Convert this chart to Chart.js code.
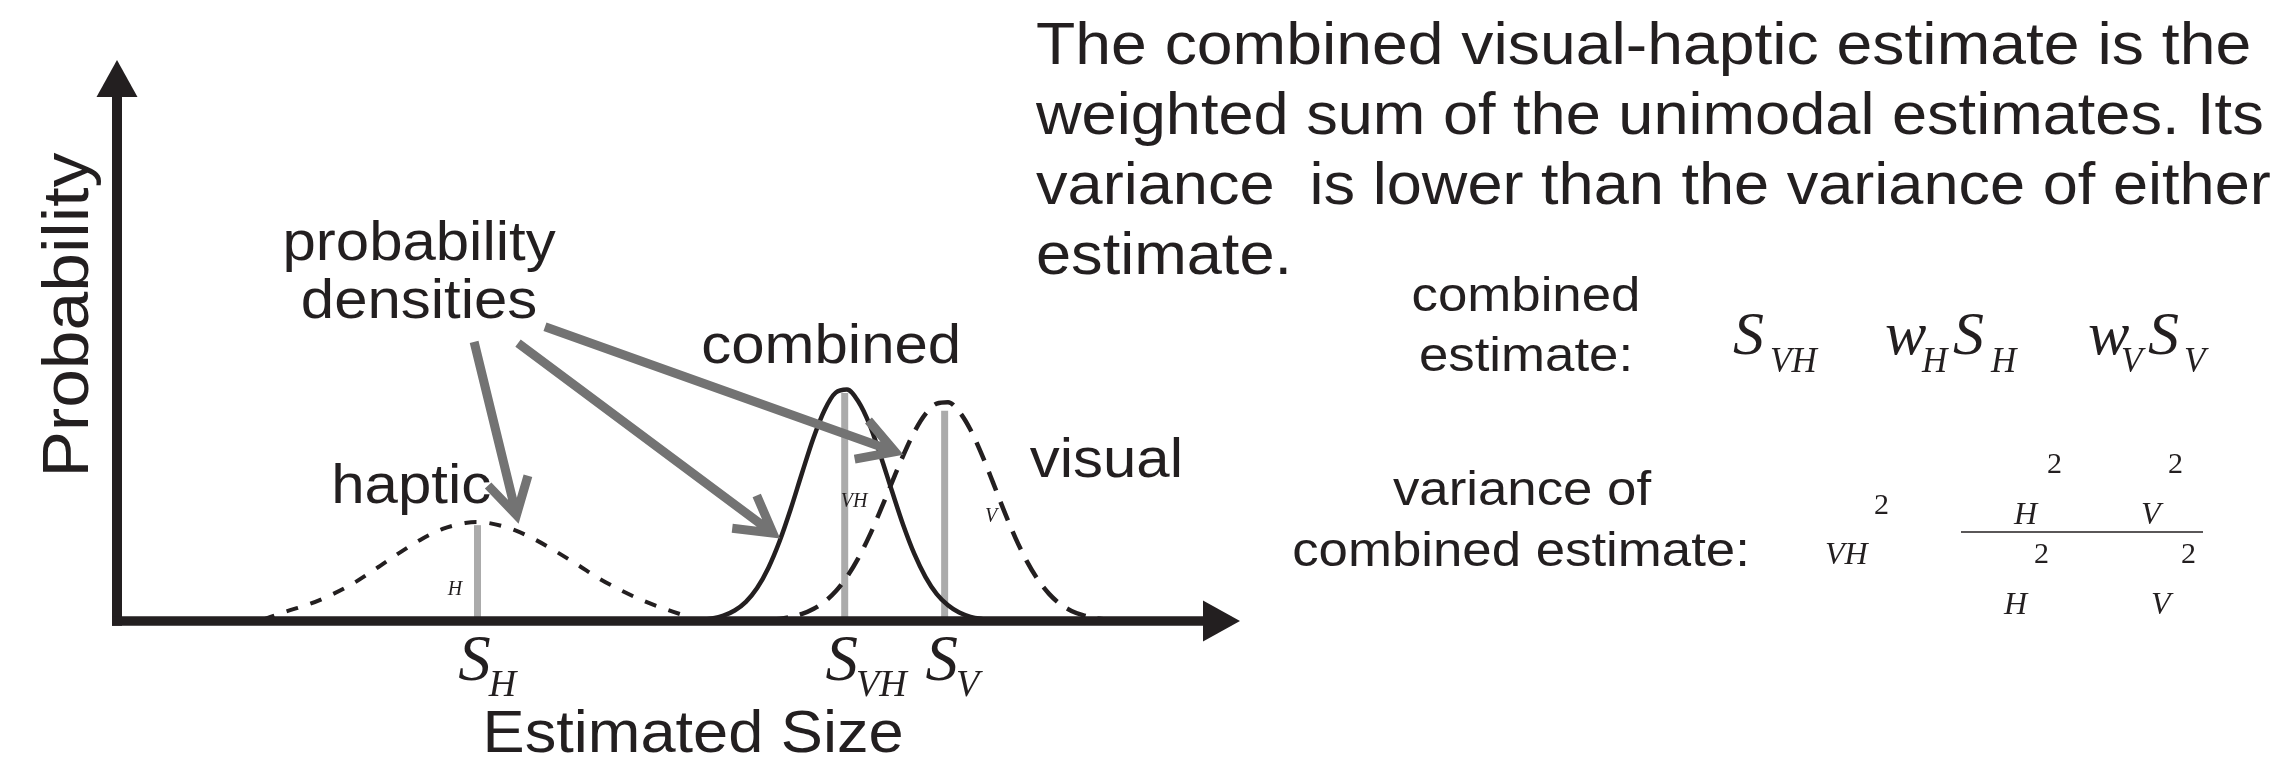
<!DOCTYPE html>
<html>
<head>
<meta charset="utf-8">
<title>Visual-haptic cue combination</title>
<script src="https://cdn.jsdelivr.net/npm/chart.js@4.4.1/dist/chart.umd.min.js"></script>
<style>
    body { margin: 0; background: #fff; overflow: hidden; }
    #wrap { position: relative; width: 2275px; height: 770px; }
    #sizeChart { position: absolute; left: 0; top: 0; }
    #notes { position: absolute; left: 0; top: 0; pointer-events: none; }
    #notes text { white-space: pre; }
</style>
</head>
<body>
<div id="wrap">
    <canvas id="sizeChart" width="1260" height="770"></canvas>

    <svg id="notes" width="2275" height="770">
        <g font-family="'Liberation Sans', Arial, sans-serif" fill="#231f20">
            <text transform="translate(1036,64) scale(1.09,1)" font-size="59">The combined visual-haptic estimate is the</text>
            <text transform="translate(1036,134) scale(1.07,1)" font-size="59">weighted sum of the unimodal estimates. Its</text>
            <text transform="translate(1036,204) scale(1.07,1)" font-size="59">variance  is lower than the variance of either</text>
            <text transform="translate(1036,274) scale(1.07,1)" font-size="59">estimate.</text>

            <g font-size="48" text-anchor="middle">
                <text transform="translate(1526,311) scale(1.1,1)">combined</text>
                <text transform="translate(1526,371) scale(1.1,1)">estimate:</text>
                <text transform="translate(1522,505) scale(1.1,1)">variance of</text>
                <text transform="translate(1521,566) scale(1.1,1)">combined estimate:</text>
            </g>
        </g>

        <!-- formulas, Times italic -->
        <g font-family="'Liberation Serif', 'Times New Roman', serif" font-style="italic" fill="#231f20">
            <text x="1733" y="354" font-size="62">S</text>
            <text x="1770" y="372" font-size="35">VH</text>
            <text x="1885" y="354" font-size="62">w</text>
            <text x="1922" y="372" font-size="35">H</text>
            <text x="1953" y="354" font-size="62">S</text>
            <text x="1991" y="372" font-size="35">H</text>
            <text x="2088" y="354" font-size="62">w</text>
            <text x="2121" y="372" font-size="35">V</text>
            <text x="2148" y="354" font-size="62">S</text>
            <text x="2184" y="372" font-size="35">V</text>

            <text x="1825" y="564" font-size="32">VH</text>
            <text x="2014" y="524" font-size="32">H</text>
            <text x="2141" y="524" font-size="32">V</text>
            <text x="2004" y="614" font-size="32">H</text>
            <text x="2151" y="614" font-size="32">V</text>
        </g>
        <g font-family="'Liberation Serif', 'Times New Roman', serif" fill="#231f20" font-size="30">
            <text x="1874" y="514">2</text>
            <text x="2047" y="473">2</text>
            <text x="2168" y="473">2</text>
            <text x="2034" y="563">2</text>
            <text x="2181" y="563">2</text>
        </g>
        <line x1="1961" y1="532" x2="2203" y2="532" stroke="#231f20" stroke-width="1.5"/>
    </svg>
</div>

<script>
// estimated size (x) against probability density (y)
const hapticX = [13, 15, 17, 19, 21, 23, 25, 27, 29, 31, 32, 33, 35, 37, 39, 41, 43, 45, 47, 49, 51];
const hapticY = [0.006, 0.04, 0.07, 0.11, 0.16, 0.222, 0.287, 0.347, 0.394, 0.419, 0.424, 0.42, 0.396, 0.354, 0.3, 0.241, 0.18, 0.128, 0.084, 0.048, 0.016];

const combinedX = [51, 52, 53, 54, 55, 56, 57, 58, 59, 60, 61, 62, 63, 64, 65, 66, 67, 68, 69, 70, 71, 72, 73, 74, 75, 76, 77, 78];
const combinedY = [0.003, 0.005, 0.011, 0.023, 0.045, 0.082, 0.141, 0.227, 0.341, 0.48, 0.633, 0.781, 0.902, 0.977, 0.99, 0.94, 0.842, 0.706, 0.557, 0.412, 0.287, 0.188, 0.115, 0.067, 0.036, 0.018, 0.009, 0.004];

const visualX = [58, 59, 60, 61, 62, 63, 64, 65, 66, 67, 68, 69, 70, 71, 72, 73, 74, 75, 76, 77, 78, 79, 80, 81, 82, 83, 84, 85, 86, 87, 88, 89];
const visualY = [0.005, 0.009, 0.017, 0.03, 0.051, 0.082, 0.127, 0.189, 0.268, 0.364, 0.475, 0.592, 0.707, 0.809, 0.886, 0.93, 0.936, 0.895, 0.818, 0.713, 0.593, 0.47, 0.356, 0.257, 0.177, 0.116, 0.072, 0.043, 0.025, 0.013, 0.007, 0.003];

// unimodal / combined estimates S_H, S_VH, S_V and the height of their marker lines
const estimateNames = ['H', 'VH', 'V'];
const estimateX = [32.1, 64.8, 73.7];
const estimateTop = [0.41, 0.975, 0.9];

const ink = '#231f20';
const pointerGray = '#737373';
const markerGray = '#ababab';
const sans = "'Liberation Sans', Arial, sans-serif";
const serif = "'Liberation Serif', 'Times New Roman', serif";

const toPoints = (xs, ys) => xs.map((x, i) => ({ x: x, y: ys[i] }));

function curve(label, xs, ys, dash, width) {
    return {
        label: label,
        data: toPoints(xs, ys),
        borderColor: ink,
        borderWidth: width,
        borderDash: dash,
        borderCapStyle: 'butt',
        cubicInterpolationMode: 'monotone',
        pointRadius: 0,
        fill: false,
        order: 1
    };
}

const datasets = [
    curve('haptic', hapticX, hapticY, [12, 13], 4),
    curve('combined', combinedX, combinedY, [], 4.5),
    curve('visual', visualX, visualY, [20, 12], 4.5)
];

estimateX.forEach((m, i) => {
    datasets.push({
        label: 'S_' + estimateNames[i],
        data: [{ x: m, y: 0 }, { x: m, y: estimateTop[i] }],
        borderColor: markerGray,
        borderWidth: 7,
        borderCapStyle: 'butt',
        pointRadius: 0,
        order: 3
    });
});

// text stretched slightly along its own direction
function label(ctx, str, x, y, font, align, stretch) {
    ctx.save();
    ctx.translate(x, y);
    ctx.scale(stretch || 1, 1);
    ctx.font = font;
    ctx.textAlign = align || 'left';
    ctx.textBaseline = 'alphabetic';
    ctx.fillText(str, 0, 0);
    ctx.restore();
}

function pointer(ctx, x1, y1, x2, y2) {
    const ang = Math.atan2(y2 - y1, x2 - x1) + Math.PI;
    const len = 41, spread = Math.PI / 6;
    ctx.beginPath();
    ctx.moveTo(x1, y1);
    ctx.lineTo(x2, y2);
    ctx.moveTo(x2 + len * Math.cos(ang - spread), y2 + len * Math.sin(ang - spread));
    ctx.lineTo(x2, y2);
    ctx.lineTo(x2 + len * Math.cos(ang + spread), y2 + len * Math.sin(ang + spread));
    ctx.stroke();
}

const decor = {
    id: 'decor',
    afterDatasetsDraw(chart) {
        const { ctx, chartArea: a, scales: { x, y } } = chart;
        const px = v => x.getPixelForValue(v);
        const py = v => y.getPixelForValue(v);
        const x0 = px(0), y0 = py(0);

        ctx.save();
        ctx.fillStyle = ink;

        // curve names
        const big = '56px ' + sans;
        label(ctx, 'probability', px(26.9), py(1.544), big, 'center', 1.07);
        label(ctx, 'densities', px(26.9), py(1.296), big, 'center', 1.07);
        label(ctx, 'haptic', px(26.2), py(0.505), big, 'center', 1.07);
        label(ctx, 'combined', px(63.6), py(1.104), big, 'center', 1.07);
        label(ctx, 'visual', px(88.1), py(0.616), big, 'center', 1.07);

        // small sigma subscripts beside the estimate markers
        const small = 'italic 20px ' + serif;
        label(ctx, 'H', px(30.1), py(0.111), small, 'center');
        label(ctx, 'VH', px(64.44), py(0.486), small, 'left');
        label(ctx, 'V', px(77.3), py(0.425), small, 'left');

        // axis titles
        label(ctx, 'Estimated Size', px(51.3), y0 + 131, '59px ' + sans, 'center', 1.07);
        ctx.save();
        ctx.translate(x0 - 29, py(1.309));
        ctx.rotate(-Math.PI / 2);
        label(ctx, 'Probability', 0, 0, '65px ' + sans, 'center', 1.07);
        ctx.restore();

        // S_H, S_VH, S_V under the axis
        estimateX.forEach((m, i) => {
            ctx.font = 'italic 65px ' + serif;
            const w = ctx.measureText('S').width;
            const sx = px(m) - 3 - w / 2;
            label(ctx, 'S', sx, y0 + 59, 'italic 65px ' + serif, 'left');
            label(ctx, estimateNames[i], sx + w - 2, y0 + 75, 'italic 38px ' + serif, 'left');
        });

        // gray pointers from "probability densities"
        ctx.strokeStyle = pointerGray;
        ctx.lineWidth = 9;
        ctx.lineCap = 'butt';
        ctx.lineJoin = 'miter';
        pointer(ctx, px(31.8), py(1.194), px(35.57), py(0.453));
        pointer(ctx, px(35.71), py(1.189), px(58.41), py(0.376));
        pointer(ctx, px(38.11), py(1.259), px(69.28), py(0.724));

        // axes with arrow heads
        const head = 37, half = 20.5;
        ctx.strokeStyle = ink;
        ctx.lineWidth = 10;
        ctx.beginPath();
        ctx.moveTo(x0, y0 + 4.75);
        ctx.lineTo(x0, a.top + head);
        ctx.stroke();
        ctx.beginPath();
        ctx.moveTo(x0, a.top);
        ctx.lineTo(x0 - half, a.top + head);
        ctx.lineTo(x0 + half, a.top + head);
        ctx.closePath();
        ctx.fill();

        ctx.lineWidth = 9.5;
        ctx.beginPath();
        ctx.moveTo(x0 - 5, y0);
        ctx.lineTo(a.right - head, y0);
        ctx.stroke();
        ctx.beginPath();
        ctx.moveTo(a.right, y0);
        ctx.lineTo(a.right - head, y0 - half);
        ctx.lineTo(a.right - head, y0 + half);
        ctx.closePath();
        ctx.fill();

        ctx.restore();
    }
};

new Chart(document.getElementById('sizeChart'), {
    type: 'line',
    data: { datasets: datasets },
    options: {
        responsive: false,
        animation: false,
        layout: { padding: { left: 117, right: 20, top: 60, bottom: 149 } },
        scales: {
            x: { type: 'linear', min: 0, max: 100, display: false },
            y: { min: 0, max: 2.4, display: false }
        },
        plugins: {
            legend: { display: false },
            tooltip: { enabled: false }
        }
    },
    plugins: [decor]
});
</script>
</body>
</html>
